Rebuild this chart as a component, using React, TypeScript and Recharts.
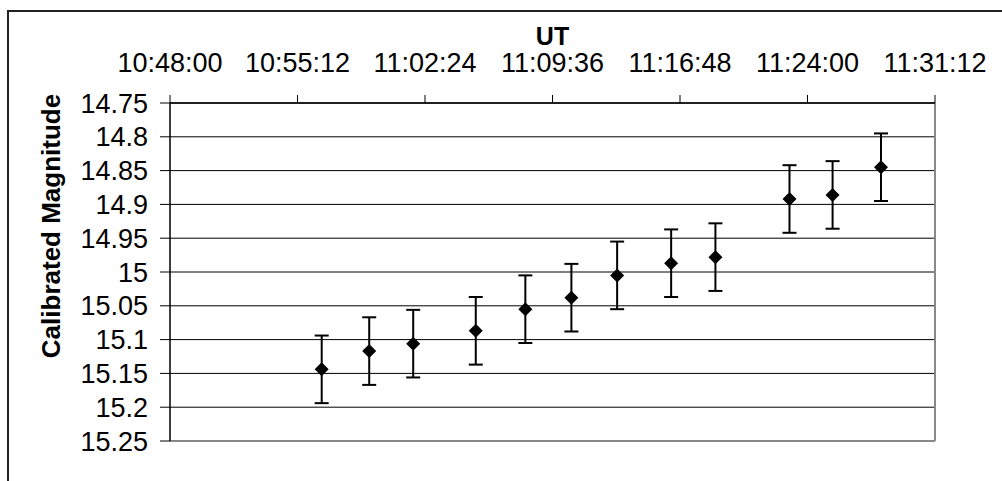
import { ScatterChart, Scatter, XAxis, YAxis, CartesianGrid, ErrorBar, ReferenceLine, Label } from 'recharts';

// observation times (UT) and calibrated magnitudes with their error
const times = ['10:56:34', '10:59:15', '11:01:44', '11:05:16', '11:08:04', '11:10:40', '11:13:15', '11:16:18', '11:18:48', '11:22:59', '11:25:25', '11:28:09'];
const magnitudes = [15.144, 15.117, 15.106, 15.087, 15.055, 15.038, 15.005, 14.987, 14.978, 14.892, 14.886, 14.845];
const errors = [0.05, 0.05, 0.05, 0.05, 0.05, 0.05, 0.05, 0.05, 0.05, 0.05, 0.05, 0.05];

const timeTicks = ['10:48:00', '10:55:12', '11:02:24', '11:09:36', '11:16:48', '11:24:00', '11:31:12'];
const magTicks = [14.75, 14.8, 14.85, 14.9, 14.95, 15, 15.05, 15.1, 15.15, 15.2, 15.25];

const FONT = '"Liberation Sans", Arial, sans-serif';

const toSeconds = (s: string) => {
    const [h, m, sec] = s.split(':').map(Number);
    return h * 3600 + m * 60 + sec;
};

const pad = (n: number) => String(n).padStart(2, '0');
const toClock = (v: number) => `${Math.floor(v / 3600)}:${pad(Math.floor((v % 3600) / 60))}:${pad(Math.round(v % 60))}`;

const data = times.map((t, i) => ({ t: toSeconds(t), mag: magnitudes[i], err: errors[i] }));
const xTicks = timeTicks.map(toSeconds);
const xMin = xTicks[0];
const xMax = xTicks[xTicks.length - 1];

const Diamond = (props: any) => {
    const { cx, cy } = props;
    const r = 7;
    return <path d={`M${cx},${cy - r}L${cx + r},${cy}L${cx},${cy + r}L${cx - r},${cy}Z`} fill="#000" />;
};

export default function App() {
    return (
        <div style={{ position: 'fixed', left: 0, top: 0, width: 1002, height: 481, overflow: 'hidden', background: '#fff' }}>
            <div style={{ position: 'absolute', left: 7, top: 10, width: 1000, height: 480, borderLeft: '2px solid #222', borderTop: '2px solid #222' }} />

            <div style={{ position: 'absolute', left: 0, top: 0 }}>
                <ScatterChart width={1002} height={481} margin={{ top: 0, right: 67, bottom: 40, left: 0 }}>
                    <CartesianGrid horizontal vertical={false} stroke="#000" strokeWidth={1} />
                    <XAxis
                        type="number"
                        dataKey="t"
                        orientation="top"
                        height={103}
                        domain={[xMin, xMax]}
                        ticks={xTicks}
                        interval={0}
                        tickFormatter={toClock}
                        tickSize={8}
                        tickMargin={23}
                        axisLine={{ stroke: '#000', strokeWidth: 1.5 }}
                        tickLine={{ stroke: '#000' }}
                        tick={{ fill: '#000', fontSize: 27, fontFamily: FONT }}
                    >
                        <Label value="UT" position="insideTop" offset={27} fill="#000" fontSize={25} fontWeight="bold" fontFamily={FONT} />
                    </XAxis>
                    <YAxis
                        type="number"
                        dataKey="mag"
                        width={170}
                        reversed
                        domain={[14.75, 15.25]}
                        ticks={magTicks}
                        interval={0}
                        tickFormatter={(v: number) => String(Number(v.toFixed(2)))}
                        tickSize={10}
                        tickMargin={12}
                        axisLine={{ stroke: '#000', strokeWidth: 1.5 }}
                        tickLine={{ stroke: '#000' }}
                        tick={{ fill: '#000', fontSize: 27, fontFamily: FONT }}
                    />
                    <ReferenceLine x={xMax} stroke="#888" strokeWidth={2} />
                    <ReferenceLine y={15.25} stroke="#888" strokeWidth={2} />
                    <Scatter data={data} shape={<Diamond />} isAnimationActive={false}>
                        <ErrorBar dataKey="err" direction="y" width={7} stroke="#000" strokeWidth={2} isAnimationActive={false} />
                    </Scatter>
                </ScatterChart>
            </div>

            <div style={{ position: 'absolute', left: 0, top: 0, width: 1002, height: 481, pointerEvents: 'none' }}>
                <svg width={1002} height={481}>
                    <text
                        transform="translate(60,226) rotate(-90)"
                        textAnchor="middle"
                        fontFamily={FONT}
                        fontSize={26}
                        fontWeight="bold"
                        fill="#000"
                    >
                        Calibrated Magnitude
                    </text>
                </svg>
            </div>
        </div>
    );
}
